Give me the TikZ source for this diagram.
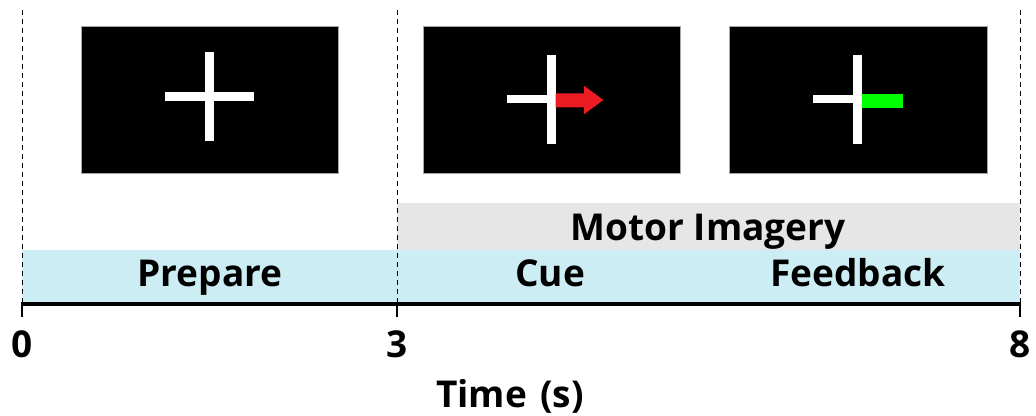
\documentclass[tikz,border=0pt]{standalone}
\usepackage{fontspec}
\setmainfont{Open Sans}
\definecolor{bandblue}{HTML}{CBEDF3}
\definecolor{bandgray}{HTML}{E6E6E6}
\definecolor{cuered}{HTML}{ED1C24}
\definecolor{fbgreen}{HTML}{00FF00}
\begin{document}
\begin{tikzpicture}[x=1pt,y=-1pt,
  lbl/.style={font=\fontsize{37}{40}\selectfont\bfseries, inner sep=0pt, anchor=base},
  screen/.style={fill=black, draw=black!35, line width=0.6pt},
  dashline/.style={draw=black, line width=1pt, dash pattern=on 5pt off 4pt},
  bar/.style={fill=white}]
\useasboundingbox (0,0) rectangle (1036,415);
% bands
\fill[bandblue] (22,250) rectangle (1020,302);
\fill[bandgray] (397,203) rectangle (1020,250);
% dashed separators
\coordinate (d0t) at (22,10); \coordinate (d0b) at (22,302);
\coordinate (d1t) at (397,10); \coordinate (d1b) at (397,302);
\coordinate (d2t) at (1020,10); \coordinate (d2b) at (1020,302);
\draw[dashline] (d0t) -- (d0b);
\draw[dashline] (d1t) -- (d1b);
\draw[dashline] (d2t) -- (d2b);
% screens
\draw[screen] (81,26) rectangle (338,173);
\draw[screen] (423,26) rectangle (680,173);
\draw[screen] (729,26) rectangle (987,173);
% cross 1
\fill[bar] (165,92) rectangle (254,101);
\fill[bar] (205,52) rectangle (214,141);
% cross 2 + arrow
\fill[bar] (507,95.3) rectangle (548,103.3);
\fill[bar] (547.3,55) rectangle (555.7,144);
\fill[cuered] (555.7,93.3) -- (584,93.3) -- (584,85.7) -- (603.3,100) -- (584,114.3) -- (584,107.3) -- (555.7,107.3) -- cycle;
% cross 3 + feedback bar
\fill[bar] (813.3,95.3) rectangle (854,103.3);
\fill[bar] (853.3,55) rectangle (862,144);
\fill[fbgreen] (862,94) rectangle (903,108);
% axis
\coordinate (a0) at (22,304); \coordinate (a1) at (1020,304);
\draw[line width=4.5pt] (a0) -- (a1);
\draw[line width=2pt] (22,302) -- (22,317);
\draw[line width=2pt] (397,302) -- (397,317);
\draw[line width=2pt] (1020,302) -- (1020,317);
% labels
\node[lbl] (prep) at (210,286) {Prepare};
\node[lbl] (cue) at (550,286) {Cue};
\node[lbl] (fb) at (858,286) {Feedback};
\node[lbl] (mi) at (708,240) {Motor Imagery};
\node[lbl] (t0) at (22,357) {0};
\node[lbl] (t3) at (397,357) {3};
\node[lbl] (t8) at (1020,357) {8};
\node[lbl] (time) at (510,407) {Time\hspace{0.1em} (s)};
\end{tikzpicture}
\end{document}
